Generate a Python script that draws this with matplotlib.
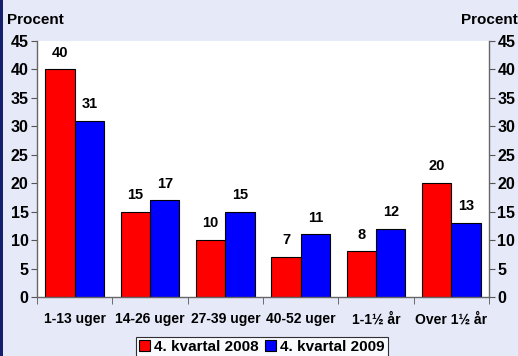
import matplotlib.pyplot as plt
import numpy as np

# Data
categories = ['1-13 uger', '14-26 uger', '27-39 uger', '40-52 uger', '1-1½ år', 'Over 1½ år']
q4_2008 = [40, 15, 10, 7, 8, 20]
q4_2009 = [31, 17, 15, 11, 12, 13]
series_names = ['4. kvartal 2008', '4. kvartal 2009']
y_ticks = [0, 5, 10, 15, 20, 25, 30, 35, 40, 45]

BG = '#E6E9F8'
NAVY = '#14206E'

plt.rcParams['font.family'] = ['Liberation Sans', 'DejaVu Sans']
plt.rcParams['font.weight'] = 'bold'

fig = plt.figure(figsize=(5.18, 3.56), dpi=100)
fig.patch.set_facecolor(BG)
ax = fig.add_axes([37 / 518, 59 / 356, 452 / 518, 256 / 356])

x = np.arange(len(categories))
w = 0.39
b1 = ax.bar(x - w / 2, q4_2008, w, color='#FF0000', edgecolor='black', linewidth=0.8,
            label=series_names[0], zorder=2)
b2 = ax.bar(x + w / 2, q4_2009, w, color='#0000FF', edgecolor='black', linewidth=0.8,
            label=series_names[1], zorder=2)
for bars in (b1, b2):
    ax.bar_label(bars, padding=7, fontsize=10.5, fontweight='bold')

ax.set_xlim(-0.5, len(categories) - 0.5)
ax.set_ylim(0, 45)
ax.set_yticks(y_ticks)
ax.tick_params(axis='y', which='both', labelsize=11.5, length=4, color='#555555',
               right=True, labelright=True, pad=2)
ax.set_xticks(x)
ax.set_xticklabels(categories, fontsize=10, fontweight='bold')
ax.tick_params(axis='x', length=0, pad=11)
# boundary ticks between categories
ax.set_xticks(np.arange(-0.5, len(categories)), minor=True)
ax.tick_params(axis='x', which='minor', length=5, color='#555555')
for lbl in ax.get_yticklabels():
    lbl.set_fontweight('bold')

ax.spines['top'].set_visible(False)
for s in ('left', 'right', 'bottom'):
    ax.spines[s].set_color('#666666')
    ax.spines[s].set_linewidth(1.0)

fig.text(7 / 518, 1 - 20 / 356, 'Procent', fontsize=11, fontweight='bold', va='center', ha='left')
fig.text(518 / 518, 1 - 20 / 356, 'Procent', fontsize=11, fontweight='bold', va='center', ha='right')

# navy strip along the left edge
fig.patches.append(plt.Rectangle((0, 0), 3 / 518, 1, transform=fig.transFigure,
                                 facecolor=NAVY, edgecolor='none'))

leg = fig.legend(handles=[b1, b2], loc='upper center', bbox_to_anchor=(262 / 518, 1 - 337 / 356),
                 ncol=2, fontsize=11, frameon=True, fancybox=False, handlelength=0.7,
                 handleheight=0.7, handletextpad=0.3, columnspacing=0.4, borderpad=0.2,
                 borderaxespad=0)
leg.get_frame().set_edgecolor('black')
leg.get_frame().set_facecolor('white')
leg.get_frame().set_linewidth(0.8)
for t in leg.get_texts():
    t.set_fontweight('bold')

plt.savefig('out.png', dpi=100, facecolor=BG)
